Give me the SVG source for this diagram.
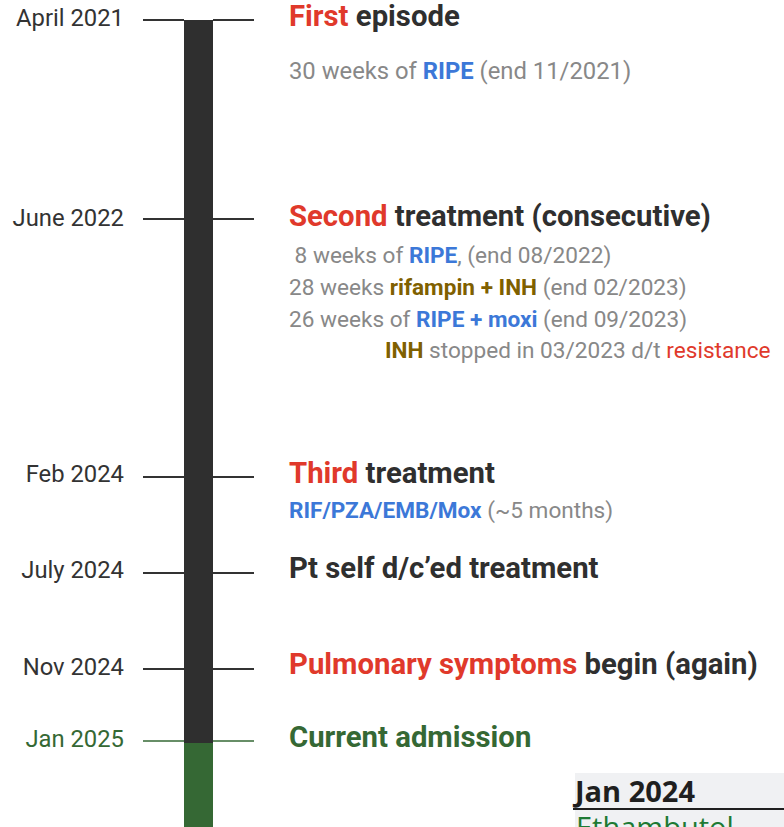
<svg xmlns="http://www.w3.org/2000/svg" width="784" height="827" viewBox="0 0 784 827">
<style>
text{font-family:Roboto,"Liberation Sans",sans-serif}
.date{font-size:23.8px;fill:#333;text-anchor:end}
.head{font-size:29.3px;font-weight:bold;fill:#2f2f2f}
.sub{font-size:22.6px;fill:#888}
.sub1{font-size:23.8px;fill:#888}
.red{fill:#e0392b}
.blue{fill:#3c78d8;font-weight:bold}
.brown{fill:#7f6000;font-weight:bold}
.green{fill:#356834}
.tick{stroke:#333;stroke-width:2}
.gtick{stroke:#356834;stroke-width:1.5}
</style>
<rect width="784" height="827" fill="#fff"/>
<g id="bar">
<rect x="184" y="20" width="29" height="723" fill="#2f2f2f"/>
<rect x="184" y="743" width="29" height="84" fill="#356834"/>
</g>
<g id="connectors">
<line class="tick" x1="143" y1="20" x2="184" y2="20"/><line class="tick" x1="213" y1="20" x2="254" y2="20"/>
<line class="tick" x1="143" y1="219" x2="184" y2="219"/><line class="tick" x1="213" y1="219" x2="254" y2="219"/>
<line class="tick" x1="143" y1="477" x2="184" y2="477"/><line class="tick" x1="213" y1="477" x2="254" y2="477"/>
<line class="tick" x1="143" y1="573" x2="184" y2="573"/><line class="tick" x1="213" y1="573" x2="254" y2="573"/>
<line class="tick" x1="143" y1="669" x2="184" y2="669"/><line class="tick" x1="213" y1="669" x2="254" y2="669"/>
<line class="gtick" x1="143" y1="741" x2="184" y2="741"/><line class="gtick" x1="213" y1="741" x2="254" y2="741"/>
</g>
<g id="e1">
<text class="date" x="124" y="26">April 2021</text>
<text class="head" x="289" y="26"><tspan class="red">First</tspan> episode</text>
<text class="sub1" x="289" y="79">30 weeks of <tspan class="blue">RIPE</tspan> (end 11/2021)</text>
</g>
<g id="e2">
<text class="date" x="124" y="226">June 2022</text>
<text class="head" x="289" y="226"><tspan class="red">Second</tspan> treatment (consecutive)</text>
<text class="sub" x="289" y="263" xml:space="preserve"> 8 weeks of <tspan class="blue">RIPE</tspan>, (end 08/2022)</text>
<text class="sub" x="289" y="295">28 weeks <tspan class="brown">rifampin + INH</tspan> (end 02/2023)</text>
<text class="sub" x="289" y="327">26 weeks of <tspan class="blue">RIPE + moxi</tspan> (end 09/2023)</text>
<text class="sub" x="385" y="358"><tspan class="brown">INH</tspan> stopped in 03/2023 d/t <tspan class="red">resistance</tspan></text>
</g>
<g id="e3">
<text class="date" x="124" y="482">Feb 2024</text>
<text class="head" x="289" y="483"><tspan class="red">Third</tspan> treatment</text>
<text class="sub" x="289" y="518"><tspan class="blue">RIF/PZA/EMB/Mox</tspan> (~5 months)</text>
</g>
<g id="e4">
<text class="date" x="124" y="578">July 2024</text>
<text class="head" x="289" y="578">Pt self d/c’ed treatment</text>
</g>
<g id="e5">
<text class="date" x="124" y="675">Nov 2024</text>
<text class="head" x="289" y="674"><tspan class="red">Pulmonary symptoms</tspan> begin (again)</text>
</g>
<g id="e6">
<text class="date green" x="124" y="747">Jan 2025</text>
<text class="head green" x="289" y="747">Current admission</text>
</g>
<g id="table">
<rect x="575" y="773" width="209" height="54" fill="#f0f1f3"/>
<text x="575" y="802" style="font-family:'Open Sans',sans-serif;font-weight:bold;font-size:29px;fill:#1f1f1f">Jan 2024</text>
<line x1="573" y1="809" x2="784" y2="809" stroke="#1f1f1f" stroke-width="2"/>
<text x="576" y="838" style="font-family:'Open Sans',sans-serif;font-size:29px;fill:#1e7a34">Ethambutol</text>
</g>
</svg>
